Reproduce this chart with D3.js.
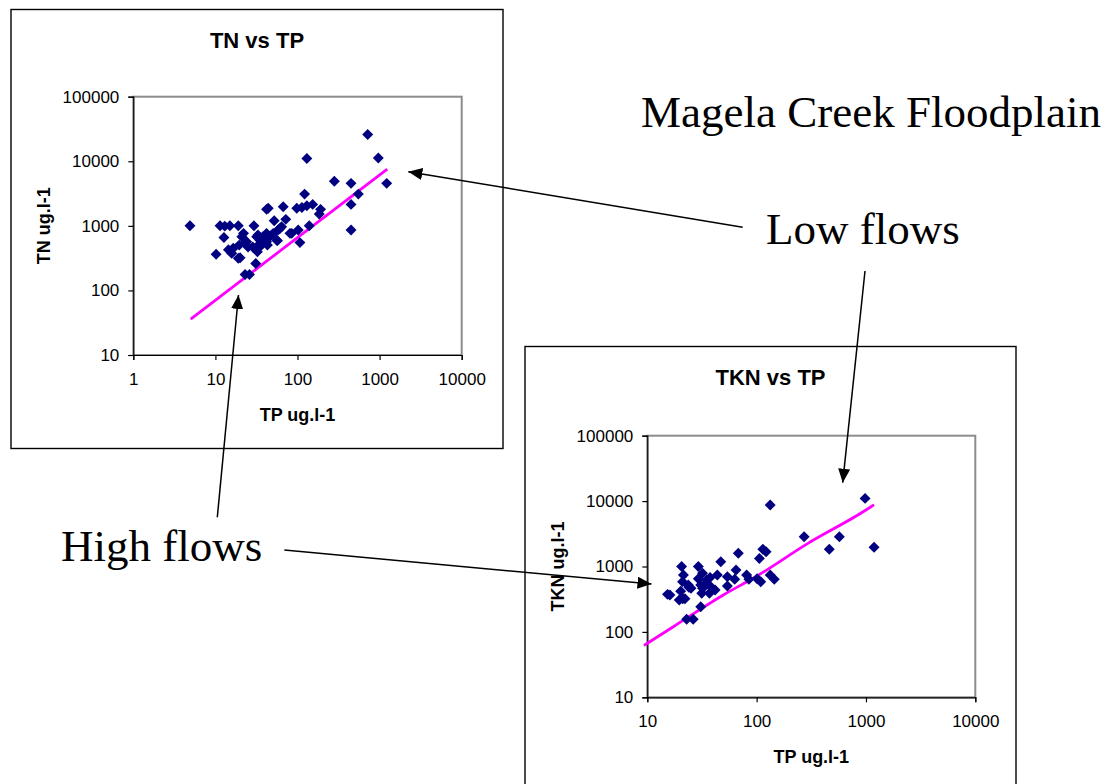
<!DOCTYPE html>
<html>
<head>
<meta charset="utf-8">
<script src="https://cdn.jsdelivr.net/npm/d3@7"></script>
<style>
    html, body { margin: 0; padding: 0; background: #fff; }
    svg { display: block; }
</style>
</head>
<body>
<svg id="chart" width="1104" height="784"></svg>
<script>
// TN vs TP  (TP ug/l, TN ug/l)
const tnTP = [4.9, 10.2, 11.4, 12.7, 13, 14.4, 15, 15.8, 16.5, 19, 19, 19.5, 20, 21, 22, 23, 23, 24, 25, 26,
    28.5, 29.5, 31, 31.8, 31.8, 32.5, 33, 35, 35, 36.5, 38, 38, 42, 42, 43, 44, 42, 47, 50.6, 52,
    56, 57, 58, 61, 64, 67, 72, 81, 85, 98, 102, 107, 113, 122, 130, 130, 139, 153, 184, 191,
    281, 449, 449, 449, 551, 716, 964, 1220];
const tnTN = [1000, 362, 1000, 658, 990, 428, 1000, 375, 450, 1000, 314, 503, 320, 677, 765, 536, 177, 568, 472, 177,
    472, 1000, 262, 677, 472, 398, 720, 600, 486, 503, 677, 540, 765, 568, 503, 1870, 1800, 700, 765, 1200,
    600, 590, 861, 910, 968, 1980, 1260, 765, 765, 1870, 861, 550, 1930, 3100, 11000, 2050, 1000, 2150, 1520, 1800,
    4900, 4550, 2150, 861, 3100, 26000, 11200, 4550];
const tnFitTP = [5, 1240];
const tnFitTN = [36, 7570];

// TKN vs TP
const tknTP = [15.3, 16.1, 19.6, 20.6, 20.2, 21, 21.1, 21.4, 22.1, 22.9, 23.7, 24, 25.1, 26.3, 29.3, 29.3, 30.8, 30.8,
    31.5, 32, 32, 33.7, 35, 37.5, 37.5, 37, 41.7, 43.7, 47, 54, 54, 63, 64.8, 68, 81, 85, 101, 106, 109,
    114, 122, 133, 133, 145, 272, 462, 571, 982, 1186];
const tknTKN = [375, 367, 308, 1000, 420, 586, 321, 742, 321, 156, 521, 480, 464, 156, 1000, 652, 243, 521,
    390, 787, 464, 521, 620, 680, 504, 389, 437, 742, 1180, 698, 504, 637, 884, 1590, 742, 637, 652, 1330, 583,
    1830, 1680, 8700, 742, 637, 2860, 1830, 2860, 11000, 1970];
const tknFitTP = [9.3, 17.3, 50, 100, 287, 1000, 1186];
const tknFitTKN = [62, 120, 370, 710, 2200, 7300, 8800];

const xTicks1 = [1, 10, 100, 1000, 10000];
const xTicks2 = [10, 100, 1000, 10000];
const yTicks = [10, 100, 1000, 10000, 100000];

const SANS = "'Liberation Sans', Arial, sans-serif";
const SERIF = "'Liberation Serif', 'Times New Roman', serif";

const svg = d3.select("#chart");

svg.append("defs").append("marker")
    .attr("id", "arrow")
    .attr("markerUnits", "userSpaceOnUse")
    .attr("viewBox", "0 0 14 12")
    .attr("refX", 14)
    .attr("refY", 6)
    .attr("markerWidth", 14)
    .attr("markerHeight", 12)
    .attr("orient", "auto")
    .append("path")
    .attr("d", "M0,0L14,6L0,12Z")
    .attr("fill", "#000");

function drawPanel(p) {
    const g = svg.append("g");

    g.append("rect")
        .attr("x", p.box[0]).attr("y", p.box[1])
        .attr("width", p.box[2]).attr("height", p.box[3])
        .attr("fill", "#fff")
        .attr("stroke", "#000")
        .attr("stroke-width", 1.4);

    const x = d3.scaleLog().domain(p.xDomain).range([p.left, p.left + p.w]);
    const y = d3.scaleLog().domain([10, 100000]).range([p.top + p.h, p.top]);

    g.append("rect")
        .attr("x", p.left).attr("y", p.top)
        .attr("width", p.w).attr("height", p.h)
        .attr("fill", "#fff")
        .attr("stroke", "#8c8c8c")
        .attr("stroke-width", 2);

    const yAxis = g.append("g")
        .attr("transform", `translate(${p.left},0)`)
        .call(d3.axisLeft(y).tickValues(yTicks).tickFormat(d3.format("d")).tickSize(5).tickPadding(9));

    const xAxis = g.append("g")
        .attr("transform", `translate(0,${p.top + p.h})`)
        .call(d3.axisBottom(x).tickValues(p.xTicks).tickFormat(d3.format("d")).tickSize(5).tickPadding(13));

    [xAxis, yAxis].forEach(a => {
        a.selectAll("text")
            .attr("font-family", SANS)
            .attr("font-size", 17)
            .attr("fill", "#000");
        a.selectAll("line").attr("stroke", "#000").attr("stroke-width", 1.2);
        a.select(".domain").attr("stroke", "#000").attr("stroke-width", 1.2);
    });

    const clip = "clip" + p.id;
    g.append("clipPath").attr("id", clip)
        .append("rect")
        .attr("x", p.left - 4).attr("y", p.top)
        .attr("width", p.w + 4).attr("height", p.h);

    const line = d3.line().x(d => x(d[0])).y(d => y(d[1])).curve(d3.curveMonotoneX);
    g.append("path")
        .attr("clip-path", `url(#${clip})`)
        .attr("d", line(p.fitX.map((v, i) => [v, p.fitY[i]])))
        .attr("fill", "none")
        .attr("stroke", "#ff00ff")
        .attr("stroke-width", 2.8);

    const diamond = d3.symbol(d3.symbolSquare, 60);
    g.append("g")
        .selectAll("path")
        .data(p.xs.map((v, i) => [v, p.ys[i]]))
        .join("path")
        .attr("d", diamond)
        .attr("transform", d => `translate(${x(d[0])},${y(d[1])}) rotate(45)`)
        .attr("fill", "#000080");

    g.append("text")
        .attr("x", p.box[0] + p.box[2] / 2)
        .attr("y", p.box[1] + 38.8)
        .attr("text-anchor", "middle")
        .attr("font-family", SANS)
        .attr("font-weight", "bold")
        .attr("font-size", 22)
        .text(p.title);

    g.append("text")
        .attr("x", p.left + p.w / 2)
        .attr("y", p.top + p.h + 65.5)
        .attr("text-anchor", "middle")
        .attr("font-family", SANS)
        .attr("font-weight", "bold")
        .attr("font-size", 18)
        .text("TP ug.l-1");

    g.append("text")
        .attr("transform", `translate(${p.left - 83},${p.top + p.h / 2}) rotate(-90)`)
        .attr("text-anchor", "middle")
        .attr("font-family", SANS)
        .attr("font-weight", "bold")
        .attr("font-size", 18)
        .text(p.yLabel);
}

drawPanel({
    id: 1, title: "TN vs TP", yLabel: "TN ug.l-1",
    box: [11, 9.5, 492, 439],
    left: 133.3, top: 96.7, w: 328.4, h: 258.3,
    xDomain: [1, 10000], xTicks: xTicks1,
    xs: tnTP, ys: tnTN, fitX: tnFitTP, fitY: tnFitTN
});

drawPanel({
    id: 2, title: "TKN vs TP", yLabel: "TKN ug.l-1",
    box: [525, 346.5, 491, 460],
    left: 647.3, top: 435.7, w: 328, h: 261.6,
    xDomain: [10, 10000], xTicks: xTicks2,
    xs: tknTP, ys: tknTKN, fitX: tknFitTP, fitY: tknFitTKN
});

// annotations
const notes = svg.append("g").attr("font-family", SERIF).attr("font-size", 45).attr("fill", "#000");
notes.append("text").attr("x", 641).attr("y", 127).text("Magela Creek Floodplain");
notes.append("text").attr("x", 766).attr("y", 244).text("Low flows");
notes.append("text").attr("x", 61).attr("y", 561).text("High flows");

const arrows = [
    [742.7, 227.3, 408.3, 171.7],
    [865, 271, 842.7, 482.7],
    [217.3, 517.3, 238.5, 295],
    [284.3, 550, 651.5, 584]
];
svg.append("g")
    .selectAll("line")
    .data(arrows)
    .join("line")
    .attr("x1", d => d[0]).attr("y1", d => d[1])
    .attr("x2", d => d[2]).attr("y2", d => d[3])
    .attr("stroke", "#000")
    .attr("stroke-width", 1.5)
    .attr("marker-end", "url(#arrow)");
</script>
</body>
</html>
